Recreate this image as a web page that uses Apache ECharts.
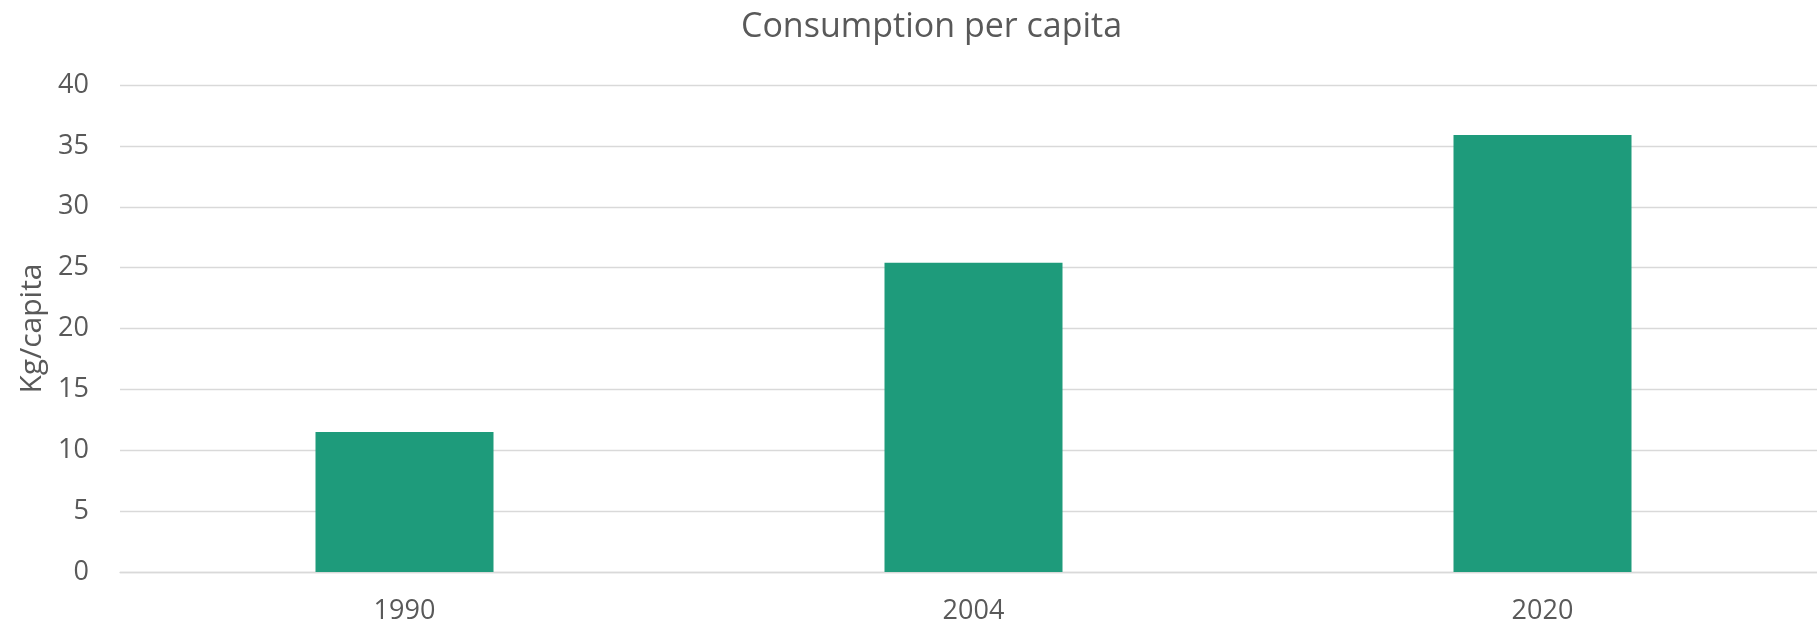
<!DOCTYPE html>
<html>
<head>
<meta charset="utf-8">
<script src="https://cdn.jsdelivr.net/npm/echarts@6/dist/echarts.min.js"></script>
<style>
html,body{margin:0;padding:0;background:#fff;overflow:hidden;width:1817px;height:629px;}
#chart{width:1827px;height:629px;}
</style>
</head>
<body>
<div id="chart"></div>
<script>
const categories = ['1990', '2004', '2020'];
const consumption = [11.5, 25.4, 35.9];
const chartTitle = 'Consumption per capita';
const yAxisName = 'Kg/capita';

const chart = echarts.init(document.getElementById('chart'), null, {renderer: 'canvas'});
const FONT = '"Open Sans", sans-serif';
chart.setOption({
  animation: false,
  backgroundColor: '#ffffff',
  title: {
    text: chartTitle,
    left: 736,
    top: 5,
    textStyle: {fontFamily: FONT, fontSize: 34, fontWeight: 'normal', color: '#595959'}
  },
  grid: {left: 120, right: 0, top: 85, bottom: 57, containLabel: false},
  xAxis: {
    type: 'category',
    data: categories,
    axisLine: {show: true, lineStyle: {color: '#D9D9D9', width: 1.3}},
    axisTick: {show: false},
    axisLabel: {fontFamily: FONT, fontSize: 27, color: '#595959', margin: 26}
  },
  yAxis: {
    type: 'value',
    min: 0,
    max: 40,
    interval: 5,
    name: yAxisName,
    nameLocation: 'middle',
    nameGap: 71,
    nameTextStyle: {fontFamily: FONT, fontSize: 30, color: '#595959'},
    axisLine: {show: false},
    axisTick: {show: false},
    splitLine: {lineStyle: {color: '#D9D9D9', width: 1.3}},
    axisLabel: {fontFamily: FONT, fontSize: 27, color: '#595959', margin: 31}
  },
  series: [{
    type: 'bar',
    data: consumption,
    barWidth: 178,
    itemStyle: {color: '#1E9B7B'}
  }]
});
</script>
</body>
</html>
